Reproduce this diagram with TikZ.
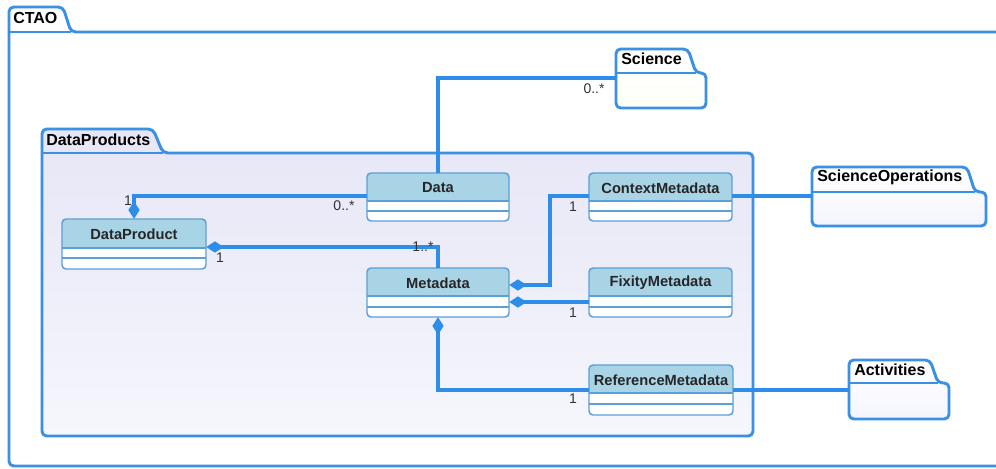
\documentclass[tikz,border=0pt]{standalone}
\usepackage{fontspec}
\setmainfont{Liberation Sans}
\usetikzlibrary{arrows.meta,fit}
\definecolor{lineblue}{HTML}{2E8DE8}
\definecolor{pkgblue}{HTML}{3A90E4}
\definecolor{clsblue}{HTML}{5B9FD8}
\definecolor{headfill}{HTML}{A9D4E6}
\definecolor{lav}{HTML}{E6E6F6}
\definecolor{lavlight}{HTML}{F6F6FD}
\definecolor{txtgray}{HTML}{333333}
\tikzset{
  pkgline/.style={draw=pkgblue, line width=2.2pt, rounded corners=3.5pt, line join=round},
  pkgtab/.style={draw=pkgblue, line width=2.2pt},
  pkglabel/.style={font=\bfseries\fontsize{12}{14}\selectfont, anchor=west, inner sep=0pt, text=black},
  clsborder/.style={draw=clsblue, line width=1.1pt, rounded corners=3pt},
  sepline/.style={draw=clsblue, line width=1pt},
  clsname/.style={font=\bfseries\fontsize{11}{13}\selectfont, inner sep=0pt, text=black!85},
  conn/.style={draw=lineblue, line width=3pt},
  comp/.style={conn, {Diamond[length=13pt, width=8.5pt]}-},
  mult/.style={font=\fontsize{10.5}{12}\selectfont, inner sep=0pt, text=txtgray},
  namebox/.style={inner sep=0pt, draw=none}
}
% [#1] fill options, #2 name, #3 l, #4 tabtop, #5 tx1, #6 tx2, #7 bodytop, #8 r, #9 bottom
\newcommand\umlpkg[9][fill=white]{%
  \path[#1, rounded corners=3.5pt] (#3,#9) -- (#3,#4) -- (#5,#4) -- (#6,#7) -- (#8,#7) -- (#8,#9) -- cycle;
  \path[pkgline] (#3,#9) -- (#3,#4) -- (#5,#4) -- (#6,#7) -- (#8,#7) -- (#8,#9) -- cycle;
  \draw[pkgtab] (#3,#7) -- (#6,#7);
  \node[namebox, fit={(#3,#7) (#8,#9)}] (#2) {};
}
% #1 name, #2 l, #3 t, #4 r, #5 header bottom, #6 sep, #7 bottom, #8 text
\newcommand\umlcls[8]{%
  \begin{scope}
    \clip[rounded corners=3pt] (#2,#3) rectangle (#4,#7);
    \fill[white] (#2,#3) rectangle (#4,#7);
    \fill[headfill] (#2,#3) rectangle (#4,#5);
  \end{scope}
  \draw[sepline] (#2,#5) -- (#4,#5) (#2,#6) -- (#4,#6);
  \draw[clsborder] (#2,#3) rectangle (#4,#7);
  \node[namebox, fit={(#2,#3) (#4,#7)}] (#1) {};
  \node[clsname] at ({(#2+#4)/2},{(#3+#5)/2+1}) {#8};
}
\begin{document}
\begin{tikzpicture}[x=0.75pt,y=-0.75pt]
\useasboundingbox[fill=white] (0,0) rectangle (996,468);

% packages
\umlpkg[fill=white]{ctao}{9}{7}{63}{71}{32}{1004}{466}
\node[pkglabel] at (13,18) {CTAO};

\umlpkg[top color=lav, bottom color=lavlight]{dprod}{42}{129}{153}{163}{153}{753}{436}
\node[pkglabel] at (46,140) {DataProducts};

\umlpkg[top color=white, bottom color=white!97!yellow]{science}{616}{49}{688}{696}{73}{706}{108}
\node[pkglabel] at (621,59) {Science};

\umlpkg[top color=white, bottom color=white!96!blue]{sciops}{812}{167}{967}{975}{192}{986}{226}
\node[pkglabel] at (817,177) {ScienceOperations};

\umlpkg[top color=white, bottom color=white!96!blue]{activities}{849}{360}{930}{938}{383}{949}{419}
\node[pkglabel] at (854,370) {Activities};

% classes
\umlcls{data}{367}{173}{509}{201}{211}{221}{Data}
\umlcls{dp}{62}{219}{206}{248}{258}{269}{DataProduct}
\umlcls{meta}{367}{268}{509}{296}{307}{317}{Metadata}
\umlcls{ctx}{589}{173}{732}{201}{211}{221}{ContextMetadata}
\umlcls{fix}{589}{268}{732}{296}{307}{317}{FixityMetadata}
\umlcls{ref}{589}{365}{733}{393}{404}{415}{ReferenceMetadata}

% connector end points on borders
\coordinate (sciW) at (science.west |- 0,78);
\coordinate (dataW) at (data.west |- 0,196);
\coordinate (dpE) at (dp.east |- 0,247);
\coordinate (metaE1) at (meta.east |- 0,285);
\coordinate (metaE2) at (meta.east |- 0,302);
\coordinate (ctxW) at (ctx.west |- 0,196);
\coordinate (ctxE) at (ctx.east |- 0,196);
\coordinate (fixW) at (fix.west |- 0,302);
\coordinate (refW) at (ref.west |- 0,390);
\coordinate (refE) at (ref.east |- 0,390);
\coordinate (sopsW) at (sciops.west |- 0,196);
\coordinate (actW) at (activities.west |- 0,390);

% connectors
\draw[conn] (data.north) |- (sciW);
\draw[comp] (dp.north) |- (dataW);
\draw[comp] (dpE) -| (meta.north);
\draw[comp] (metaE1) -- ++(41,0) |- (ctxW);
\draw[comp] (metaE2) -- (fixW);
\draw[comp] (meta.south) |- (refW);
\draw[conn] (ctxE) -- (sopsW);
\draw[conn] (refE) -- (actW);

% crossing dots on DataProducts border
\fill[lineblue] (dprod.east |- ctxE) circle (2.2);
\fill[lineblue] (dprod.east |- refE) circle (2.2);

% multiplicities
\node[mult] at (594,89) {0..*};
\node[mult] at (128,201) {1};
\node[mult] at (344,206) {0..*};
\node[mult] at (220,258) {1};
\node[mult] at (423,247) {1..*};
\node[mult] at (573,207) {1};
\node[mult] at (573,313) {1};
\node[mult] at (573,399) {1};
\end{tikzpicture}
\end{document}
